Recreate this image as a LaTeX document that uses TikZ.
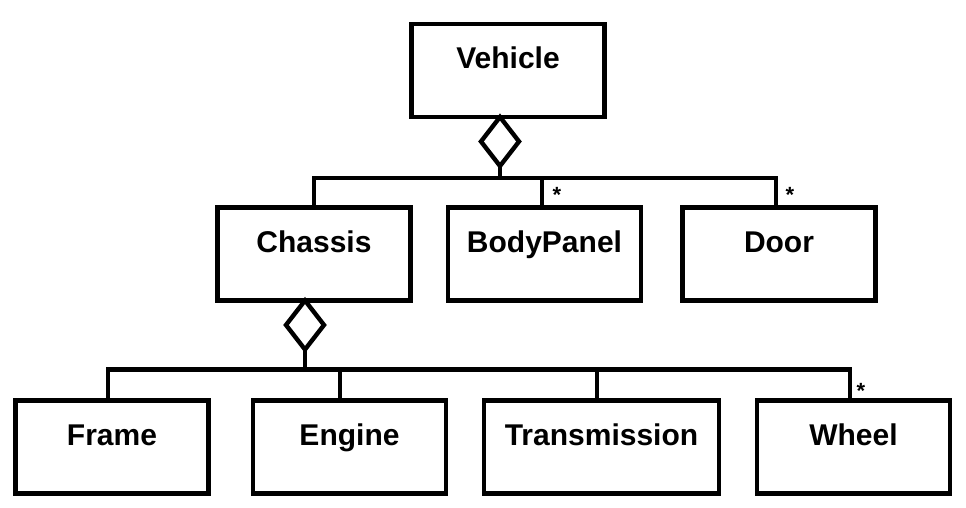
\documentclass[tikz,border=0pt]{standalone}
\usepackage{fontspec}
\setmainfont{Liberation Sans}
\usetikzlibrary{shapes.geometric,positioning,calc}

\tikzset{
  cls/.style={draw, line width=2.2pt, minimum width=96.5pt, inner xsep=2pt,
    inner ysep=0pt, outer sep=0pt, text height=22.4pt, text depth=24.1pt,
    font=\bfseries\fontsize{15}{18}\selectfont},
  agg/.style={draw, diamond, line width=2.2pt, fill=white, inner sep=0pt,
    outer sep=0pt, minimum width=19pt, minimum height=24.5pt},
  mult/.style={inner sep=0pt, font=\bfseries\fontsize{11}{13}\selectfont},
  link/.style={line width=2.2pt}
}

\begin{document}
\begin{tikzpicture}[x=0.5pt, y=-0.5pt]
  \useasboundingbox (0,0) rectangle (966,508);
  % classes
  \node[cls] (veh) at (508,70.5) {Vehicle};
  \node[cls] (cha) at (314,254) {Chassis};
  \node[cls] (bodyp) at (544.5,254) {BodyPanel};
  \node[cls] (door) at (779,254) {Door};
  \node[cls] (frame) at (112,447) {Frame};
  \node[cls] (eng) at (349.5,447) {Engine};
  \node[cls, minimum width=117.5pt] (trans) at (601.5,447) {Transmission};
  \node[cls] (wheel) at (853.5,447) {Wheel};
  % aggregation
  \node[agg, anchor=north] (vagg) at ([xshift=-4pt]veh.south) {};
  \node[agg, anchor=north] (cagg) at ([xshift=-4.5pt]cha.south) {};
  \coordinate (vbus) at ($(vagg.south)+(0,12)$);
  \coordinate (cbus) at ($(cagg.south)+(0,20)$);
  \draw[link] (vagg.south) -- (vbus);
  \draw[link] (cha.north) |- (vbus) -| ([xshift=-1.5pt]door.north);
  \draw[link] (vbus) -| ([xshift=-1.25pt]bodyp.north);
  \draw[link] (cagg.south) -- (cbus);
  \draw[link] ([xshift=-2pt]frame.north) |- (cbus) -| ([xshift=-1.75pt]wheel.north);
  \draw[link] (cbus) -| ([xshift=-4.75pt]eng.north);
  \draw[link] (cbus) -| ([xshift=-2.25pt]trans.north);
  % multiplicities
  \node[mult, anchor=north] (bodym) at ([xshift=6.25pt, yshift=10.5pt]bodyp.north) {*};
  \node[mult, anchor=north] (doorm) at ([xshift=5.5pt, yshift=10.5pt]door.north) {*};
  \node[mult, anchor=north] (wheelm) at ([xshift=3.75pt, yshift=9pt]wheel.north) {*};
\end{tikzpicture}
\end{document}
